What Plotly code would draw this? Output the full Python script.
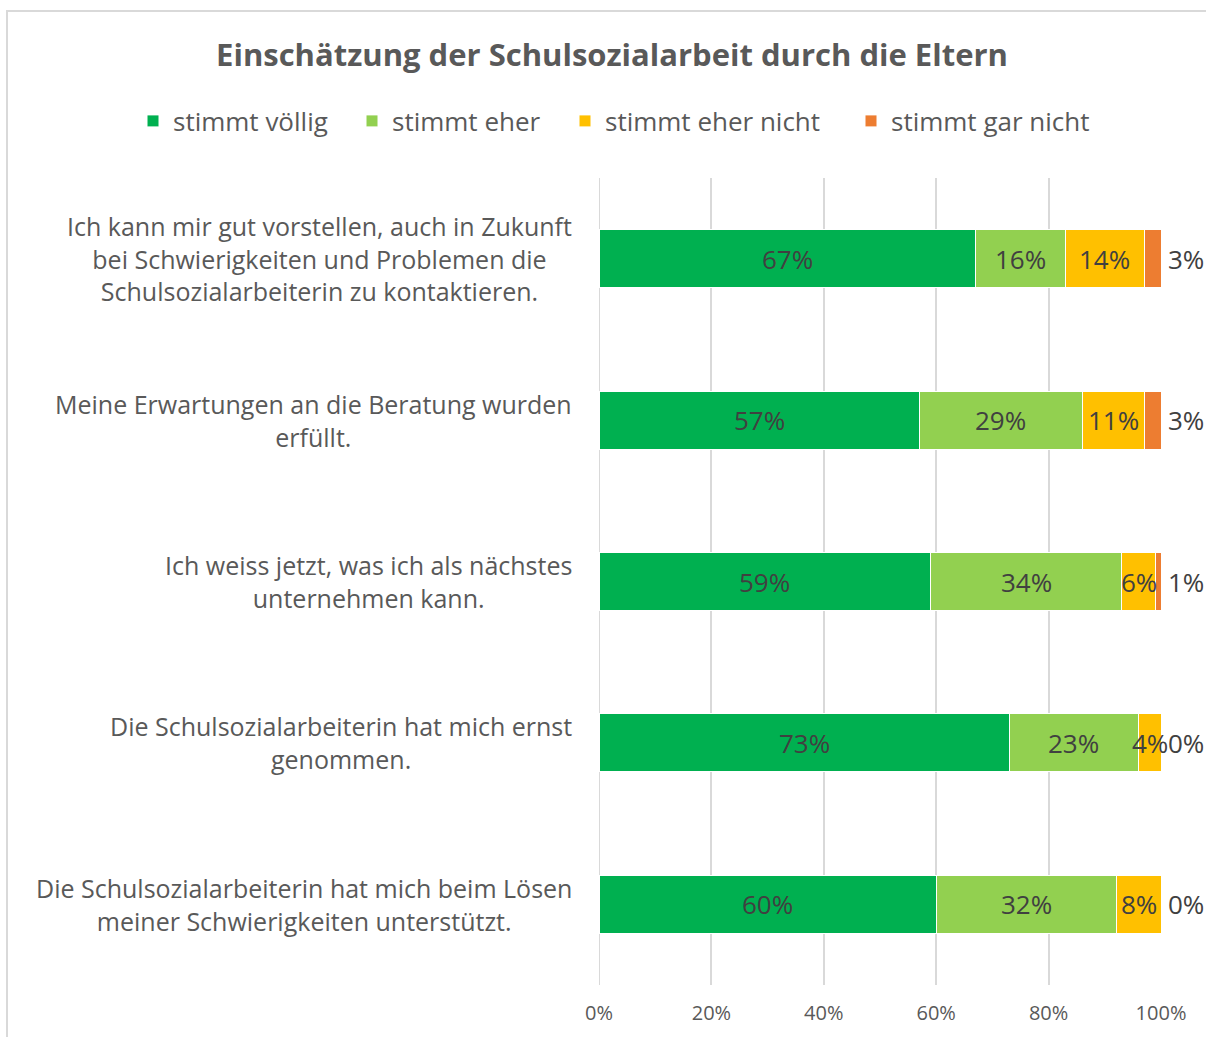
import plotly.graph_objects as go

categories = [
    "Ich kann mir gut vorstellen, auch in Zukunft<br>bei Schwierigkeiten und Problemen die<br>Schulsozialarbeiterin zu kontaktieren.",
    "Meine Erwartungen an die Beratung wurden<br>erfüllt.",
    "Ich weiss jetzt, was ich als nächstes<br>unternehmen kann.",
    "Die Schulsozialarbeiterin hat mich ernst<br>genommen.",
    "Die Schulsozialarbeiterin hat mich beim Lösen<br>meiner Schwierigkeiten unterstützt.",
]
series_names = ["stimmt völlig", "stimmt eher", "stimmt eher nicht", "stimmt gar nicht"]
stimmt_voellig = [67, 57, 59, 73, 60]
stimmt_eher = [16, 29, 34, 23, 32]
stimmt_eher_nicht = [14, 11, 6, 4, 8]
stimmt_gar_nicht = [3, 3, 1, 0, 0]
tick_values = [0, 20, 40, 60, 80, 100]
tick_labels = ["0%", "20%", "40%", "60%", "80%", "100%"]

series = [stimmt_voellig, stimmt_eher, stimmt_eher_nicht, stimmt_gar_nicht]
colors = ["#00B050", "#92D050", "#FFC000", "#ED7D31"]

FONT = "Open Sans"
W, H = 1206, 1037
L, R, T, B = 599, 45, 178, 52
pw = W - L - R
ph = H - T - B

# page x where each legend entry's text starts (layout only)
legend_text_px = [173, 392, 605, 891]
legend_names = ["legend", "legend2", "legend3", "legend4"]

fig = go.Figure()
for name, vals, col, lg in zip(series_names, series, colors, legend_names):
    fig.add_trace(go.Bar(
        y=categories, x=vals, name=name, orientation="h",
        marker=dict(color=col, line=dict(color="white", width=1)),
        textposition="none", hoverinfo="x+name", legend=lg, showlegend=True,
    ))

annotations = []
for i, cat in enumerate(categories):
    cum = 0
    for k, vals in enumerate(series):
        v = vals[i]
        if k < 3:
            annotations.append(dict(
                x=cum + v / 2, y=cat, xref="x", yref="y", text=f"{v}%",
                showarrow=False, xanchor="center", yanchor="middle",
                font=dict(family=FONT, size=26, color="#404040"),
            ))
        else:
            annotations.append(dict(
                x=cum + v, y=cat, xref="x", yref="y", text=f"{v}%",
                showarrow=False, xanchor="left", yanchor="middle", xshift=5,
                font=dict(family=FONT, size=26, color="#404040"),
            ))
        cum += v
    annotations.append(dict(
        x=0, y=cat, xref="paper", yref="y", text=cat, xshift=-25,
        showarrow=False, xanchor="right", yanchor="middle", align="center",
        font=dict(family=FONT, size=25, color="#595959"),
    ))

frame_x0 = (7 - L) / pw
frame_y1 = (H - B - 11) / ph

legend_layouts = {}
for lg, tx in zip(legend_names, legend_text_px):
    legend_layouts[lg] = dict(
        orientation="h", xref="paper", x=(tx - 40 - L) / pw, xanchor="left",
        yref="paper", y=(H - B - 121) / ph, yanchor="middle",
        font=dict(family=FONT, size=26, color="#595959"),
        itemclick=False, itemdoubleclick=False, bgcolor="rgba(0,0,0,0)",
        visible=True,
    )

fig.update_layout(
    width=W, height=H, showlegend=True,
    margin=dict(l=L, r=R, t=T, b=B, autoexpand=False),
    paper_bgcolor="white", plot_bgcolor="white",
    barmode="stack", bargap=0.64,
    title=dict(
        text="<b>Einschätzung der Schulsozialarbeit durch die Eltern</b>",
        x=612 / W, xanchor="center", xref="container",
        y=1 - 55 / H, yanchor="middle", yref="container",
        font=dict(family=FONT, size=31, color="#595959"),
    ),
    xaxis=dict(
        range=[0, 100], tickvals=tick_values, ticktext=tick_labels,
        showgrid=True, gridcolor="#D9D9D9", gridwidth=2,
        zeroline=False, showline=False,
        tickfont=dict(family=FONT, size=20, color="#595959"),
        ticks="", ticklabelstandoff=14,
    ),
    yaxis=dict(
        type="category", categoryorder="array", categoryarray=categories,
        autorange="reversed", showticklabels=False, showgrid=False,
        zeroline=False, showline=False,
    ),
    annotations=annotations,
    shapes=[
        dict(type="rect", xref="paper", yref="paper",
             x0=frame_x0, x1=1.5, y0=-0.5, y1=frame_y1,
             line=dict(color="#D9D9D9", width=2), layer="below"),
        dict(type="line", xref="x", yref="paper", x0=tick_values[0], x1=tick_values[0],
             y0=0, y1=1, line=dict(color="#D9D9D9", width=2), layer="below"),
    ],
    **legend_layouts,
)

fig.write_html("out.html", config={"displayModeBar": False},
               post_script="document.body.style.margin='0px';")
